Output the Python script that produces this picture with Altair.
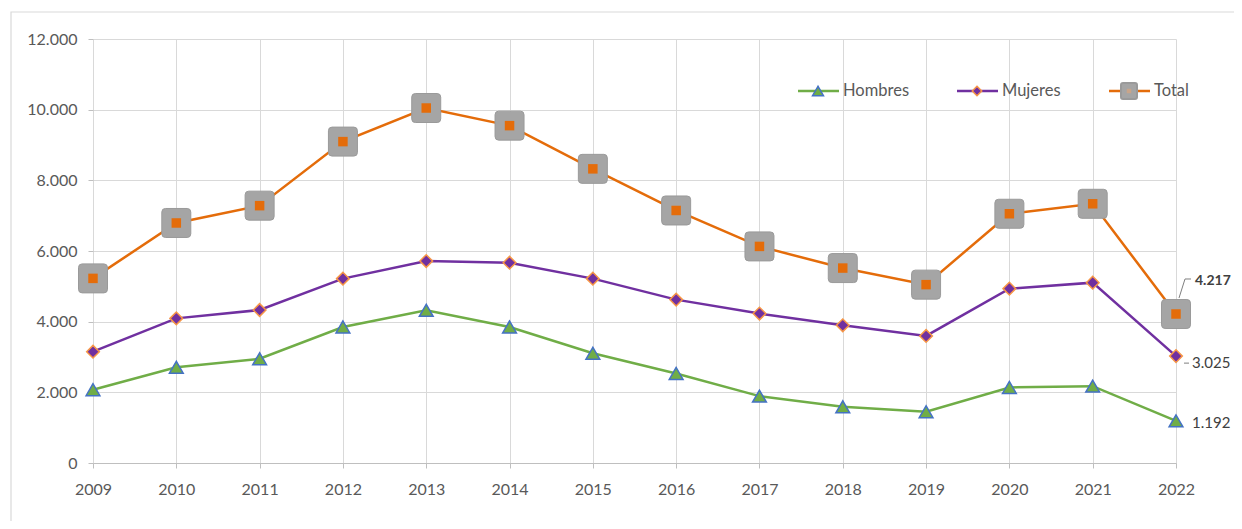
import altair as alt
import pandas as pd

years = list(range(2009, 2023))
hombres = [2075, 2710, 2950, 3850, 4322, 3850, 3107, 2534, 1893, 1591, 1450, 2138, 2175, 1192]
mujeres = [3150, 4093, 4330, 5218, 5715, 5669, 5218, 4624, 4229, 3898, 3596, 4935, 5104, 3025]
total = [5225, 6793, 7283, 9096, 10047, 9548, 8325, 7147, 6130, 5517, 5048, 7054, 7336, 4217]
series_names = ["Hombres", "Mujeres", "Total"]
series_colors = ["#70AD47", "#7030A0", "#E46C0A"]
y_ticks = [0, 2000, 4000, 6000, 8000, 10000, 12000]

rows = []
for name, vals in zip(series_names, [hombres, mujeres, total]):
    for yr, v in zip(years, vals):
        rows.append({"year": yr, "series": name, "value": v})
df = pd.DataFrame(rows)

FONT = "Lato"
GRID = "#D9D9D9"
TXT = "#595959"
W, H = 1083, 424

xenc = alt.X("year:Q", scale=alt.Scale(domain=[years[0], years[-1]], nice=False, zero=False),
             axis=alt.Axis(values=years, format="d", title=None, grid=True, gridColor=GRID,
                           tickSize=5, tickColor="#BFBFBF", domainColor="#BFBFBF",
                           labelPadding=13, labelFontSize=16, labelColor=TXT, labelFont=FONT,
                           labelFlush=False, labelOverlap=False))
yenc = alt.Y("value:Q", scale=alt.Scale(domain=[0, 12000], nice=False),
             axis=alt.Axis(values=y_ticks, title=None, grid=True, gridColor=GRID,
                           tickSize=5, tickColor="#BFBFBF", domain=False,
                           labelPadding=11, labelFontSize=16, labelColor=TXT, labelFont=FONT,
                           labelExpr="replace(format(datum.value, ','), ',', '.')"))

base = alt.Chart(df)
one = alt.Chart(pd.DataFrame({"a": [0]}))

border = one.mark_rect(fill=None, stroke=GRID, strokeWidth=1.2).encode(
    x=alt.value(-82), x2=alt.value(1170), y=alt.value(-27), y2=alt.value(500))

lines = base.mark_line(strokeWidth=2.5).encode(
    x=xenc, y=yenc,
    color=alt.Color("series:N", scale=alt.Scale(domain=series_names, range=series_colors), legend=None),
    detail="series:N")

rounded = "M-0.75,-1H0.75Q1,-1 1,-0.75V0.75Q1,1 0.75,1H-0.75Q-1,1 -1,0.75V-0.75Q-1,-1 -0.75,-1Z"

pts_h = base.transform_filter(alt.datum.series == "Hombres").mark_point(
    shape="triangle-up", filled=True, fill="#70AD47", stroke="#4472C4", strokeWidth=1.5,
    size=190, opacity=1).encode(x=xenc, y=yenc)
pts_m = base.transform_filter(alt.datum.series == "Mujeres").mark_point(
    shape="diamond", filled=True, fill="#7030A0", stroke="#F79646", strokeWidth=1.5,
    size=160, opacity=1).encode(x=xenc, y=yenc)
pts_t = base.transform_filter(alt.datum.series == "Total").mark_point(
    shape=rounded, filled=True, fill="#A5A5A5", stroke="#9A9A9A", strokeWidth=1,
    size=841, opacity=1).encode(x=xenc, y=yenc)
pts_t2 = base.transform_filter(alt.datum.series == "Total").mark_point(
    shape="square", filled=True, fill="#E46C0A", size=90, opacity=1).encode(x=xenc, y=yenc)

end = base.transform_filter(alt.datum.year == years[-1])
lab_t = end.transform_filter(alt.datum.series == "Total").transform_calculate(
    lbl="replace(format(datum.value, ','), ',', '.')").mark_text(
    align="left", baseline="middle", dx=19, dy=-33, font=FONT, fontSize=14,
    fontWeight="bold", color="#404040").encode(x=xenc, y=yenc, text="lbl:N")
lead_t1 = end.transform_filter(alt.datum.series == "Total").mark_rule(
    color="#7F7F7F", strokeWidth=1, xOffset=3, x2Offset=9, yOffset=-16, y2Offset=-35).encode(
    x=xenc, x2="year:Q", y=yenc, y2="value:Q")
lead_t2 = end.transform_filter(alt.datum.series == "Total").mark_rule(
    color="#7F7F7F", strokeWidth=1, xOffset=9, x2Offset=15, yOffset=-35, y2Offset=-35).encode(
    x=xenc, x2="year:Q", y=yenc, y2="value:Q")
lab_m = end.transform_filter(alt.datum.series == "Mujeres").transform_calculate(
    lbl="replace(format(datum.value, ','), ',', '.')").mark_text(
    align="left", baseline="middle", dx=16, dy=7, font=FONT, fontSize=15,
    color="#404040").encode(x=xenc, y=yenc, text="lbl:N")
lead_m = end.transform_filter(alt.datum.series == "Mujeres").mark_rule(
    color="#7F7F7F", strokeWidth=1, xOffset=8, x2Offset=13, yOffset=7, y2Offset=7).encode(
    x=xenc, x2="year:Q", y=yenc, y2="value:Q")
lab_h = end.transform_filter(alt.datum.series == "Hombres").transform_calculate(
    lbl="replace(format(datum.value, ','), ',', '.')").mark_text(
    align="left", baseline="middle", dx=16, dy=2, font=FONT, fontSize=15,
    color="#404040").encode(x=xenc, y=yenc, text="lbl:N")

# manual legend
leg_layers = []
leg_y = 52
leg_x = [705, 864, 1016]
for name, col, lx in zip(series_names, series_colors, leg_x):
    leg_layers.append(one.mark_rule(color=col, strokeWidth=2.5).encode(
        x=alt.value(lx), x2=alt.value(lx + 41), y=alt.value(leg_y), y2=alt.value(leg_y)))
    mx = lx + 20
    if name == "Hombres":
        leg_layers.append(one.mark_point(shape="triangle-up", filled=True, fill="#70AD47",
                                         stroke="#4472C4", strokeWidth=1.5, size=120, opacity=1).encode(
            x=alt.value(mx), y=alt.value(leg_y)))
    elif name == "Mujeres":
        leg_layers.append(one.mark_point(shape="diamond", filled=True, fill="#7030A0",
                                         stroke="#F79646", strokeWidth=1.5, size=90, opacity=1).encode(
            x=alt.value(mx), y=alt.value(leg_y)))
    else:
        leg_layers.append(one.mark_point(shape=rounded, filled=True, fill="#A5A5A5",
                                         stroke="#9A9A9A", size=256, opacity=1).encode(
            x=alt.value(mx), y=alt.value(leg_y)))
        leg_layers.append(one.mark_point(shape="square", filled=True, fill="#C9A58A",
                                         size=20, opacity=1).encode(
            x=alt.value(mx), y=alt.value(leg_y)))
    leg_layers.append(one.mark_text(align="left", baseline="middle", font=FONT, fontSize=16.5,
                                    color=TXT, text=name).encode(
        x=alt.value(lx + 45), y=alt.value(leg_y)))

chart = alt.layer(
    border, lines, pts_h, pts_m, pts_t, pts_t2,
    lead_t1, lead_t2, lab_t, lead_m, lab_m, lab_h, *leg_layers
).properties(
    width=W, height=H,
    autosize=alt.AutoSizeParams(type="none"),
    padding={"left": 85, "top": 31, "right": 58, "bottom": 58},
    background="white",
).configure_view(stroke=None)

chart.save("out.html", embed_options={"renderer": "svg", "actions": False})
